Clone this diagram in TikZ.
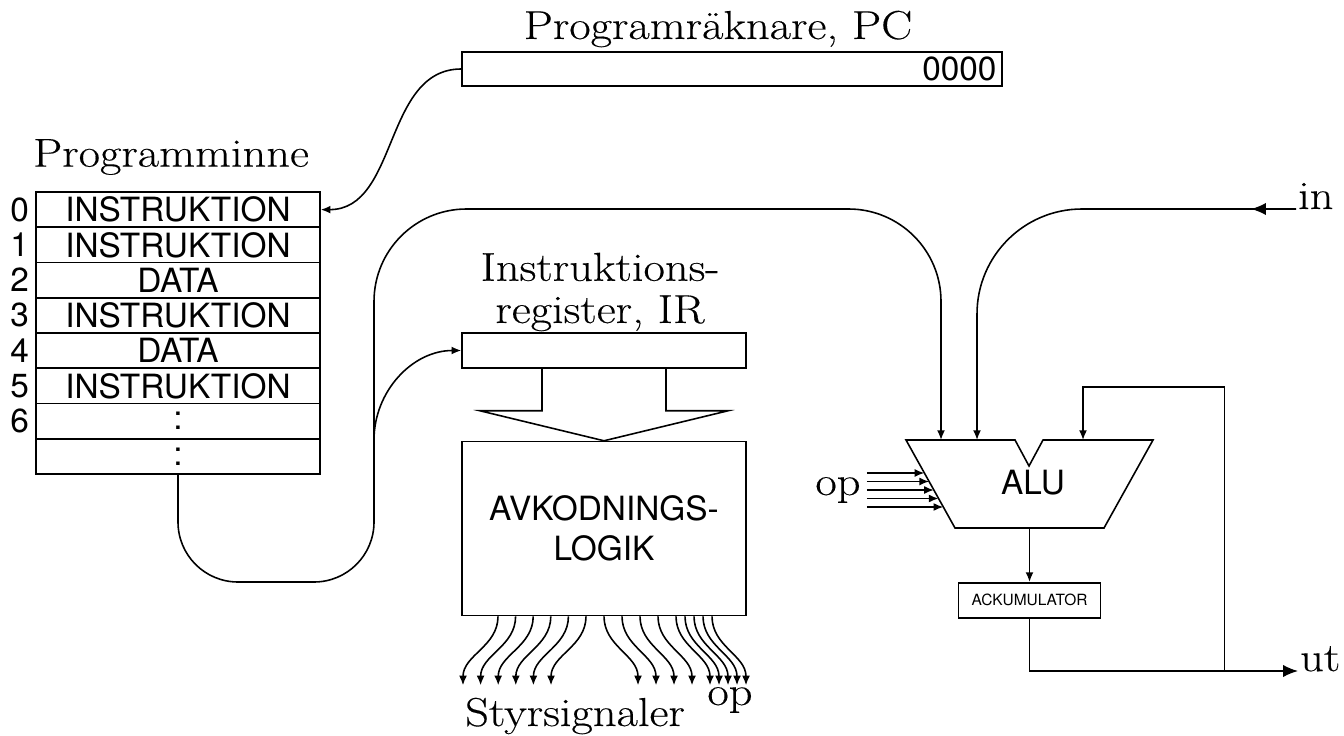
\documentclass[tikz,border=0pt]{standalone}
\usepackage{fontspec}
\setmainfont{Latin Modern Roman}[FakeStretch=1.15, FakeBold=0.3]
\newfontfamily\heros{TeX Gyre Heros}
\usetikzlibrary{
  arrows.meta,
  calc,
  positioning
}
\tikzset{
  % For all strokes.
  line/.style={
    line width=0.9pt},
%
  % For curves with one arrow.
  direction/.style={
    line,
    -{Latex[length=5.5pt,width=4.5pt]}},
%
  % For the outer in/out wires, which have a bigger head.
  big direction/.style={
    line,
    -{Latex[length=8.5pt,width=7pt]}},
%
  % For sans serif texts.
  sans/.style={
    font=\heros\fontsize{19}{23}\selectfont},
%
  % For registers and logic blocks.
  box/.style={
    draw,
    line,
    sans,
    inner sep=0pt},
%
  % For the memory cells.
  cell/.style={
    box,
    minimum width=5.68cm,
    minimum height=0.705cm},
%
  % For serif captions.
  caption/.style={
    font=\fontsize{23}{24}\selectfont,
    align=center}
}

\begin{document}
\begin{tikzpicture}[x=0.02cm, y=-0.02cm]
  \useasboundingbox (0,0) rectangle (1344,736);

  % Program counter.
  \node[box, minimum width=10.8cm, minimum height=0.68cm] (pc) at (732,69) {};
  \node[sans, anchor=east] (pc value) at (pc.east) {0000};
  \node[caption] (pc label) at (718,29) {Programräknare, PC};

  % Program memory.
  \node[caption] (mem label) at (171,157) {Programminne};
  \foreach \i/\txt in {0/INSTRUKTION, 1/INSTRUKTION, 2/DATA, 3/INSTRUKTION,
                       4/DATA, 5/INSTRUKTION, 6/:, 7/:}
    \node[cell] (m\i) at (178,{192+35.25*(\i+0.5)}) {\txt};
  \foreach \i in {0,...,6}
    \node[sans, anchor=east] (addr\i) at (m\i.west) {\i};

  \draw[direction] (pc.west) to[out=180, in=0] (m0.east);

  % Instruction register and decoder.
  \node[box, minimum width=5.68cm, minimum height=0.7cm] (ir) at (604,350.5) {};
  \node[caption] (ir label) at (600,292) {Instruktions-\\register, IR};
  \node[box, below=1.44cm of ir, minimum width=5.68cm, minimum height=3.48cm,
        align=center] (dec) {AVKODNINGS-\\LOGIK};

  \draw[line] ($(ir.south)+(-62,0)$) -- ($(ir.south)+(-62,42)$)
              -- ($(ir.south)+(-124,42)$) -- (dec.north)
              -- ($(ir.south)+(124,42)$) -- ($(ir.south)+(62,42)$)
              -- ($(ir.south)+(62,0)$);

  % Control signals out of the decoder.
  \foreach \dx in {-106,-88.4,-70.8,-53.2,-35.6,-18}
    \draw[direction] ($(dec.south)+(\dx,0)$) to[out=-90, in=90] ++(-35,69);
  \foreach \dx in {0,18,36,54,72,81,90,99,108}
    \draw[direction] ($(dec.south)+(\dx,0)$) to[out=-90, in=90] ++(34,69);
  \node[caption] (styr) at (575,716) {Styrsignaler};
  \node[caption] (dec op) at (730,700) {op};

  % ALU.
  \coordinate (alu tl) at (906,440);
  \coordinate (alu n1) at (1015,440);
  \coordinate (alu v) at (1029,466);
  \coordinate (alu n2) at (1043,440);
  \coordinate (alu tr) at (1153,440);
  \coordinate (alu br) at (1104,528);
  \coordinate (alu bl) at (955,528);
  \draw[line] (alu tl) -- (alu n1) -- (alu v) -- (alu n2) -- (alu tr)
              -- (alu br) -- (alu bl) -- cycle;
  \node[sans] (alu label) at (1033,483) {ALU};
  \coordinate (alu a) at (941,440);
  \coordinate (alu b) at (977,440);
  \coordinate (alu c) at (1083,440);
  \coordinate (alu out) at ($(alu bl)!0.5!(alu br)$);

  \node[box, font=\heros\fontsize{8.8}{10}\selectfont, minimum width=2.84cm,
        minimum height=0.7cm, below=1.08cm of alu out] (ack) {ACKUMULATOR};
  \draw[direction] (alu out) -- (ack);

  % Operation select.
  \node[caption] (op label) at (838,490) {op};
  \foreach \k in {0,...,4} {
    \coordinate (op\k) at ($(alu tl)!{(33+8.5*\k)/88}!(alu bl)$);
    \draw[direction] (op\k -| op label.east) -- (op\k);
  }

  % Bus from memory to IR and ALU.
  \coordinate (bus low) at (374,582);
  \coordinate (split) at (374,440);
  \draw[line, rounded corners=1.2cm] (m7.south) |- (bus low) -- (split);
  \draw[direction] (split) to[out=90, in=180] (ir.west);

  % In and out.
  \node[caption, anchor=base west, inner sep=1pt] (in) at (1296,209) {in};
  \node[caption, anchor=base west, inner sep=1pt] (ut) at (1298,671) {ut};
  \coordinate (a top) at (alu a |- in.base west);
  \coordinate (in bend) at (alu b |- in.base west);
  \draw[direction, rounded corners=1.85cm] (split) |- (a top) -- (alu a);
  \draw[direction, rounded corners=2.1cm] (in.base west) -- (in bend) -- (alu b);
  \draw[big direction] (in.base west) -- ++(-45,0);
  \draw[big direction] (ack.south) |- (ut.base west);

  % Feedback from the accumulator.
  \coordinate (fb) at ($(ack.south |- ut.base west)+(195,0)$);
  \coordinate (fb top) at ($(fb)+(0,-284)$);
  \draw[direction] (fb) -- (fb top) -| (alu c);
\end{tikzpicture}
\end{document}
